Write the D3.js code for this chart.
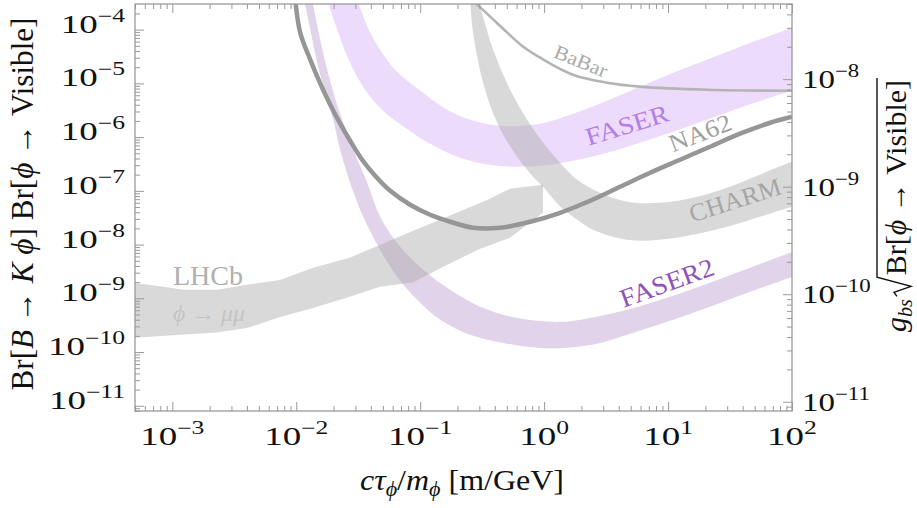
<!DOCTYPE html>
<html>
<head>
<meta charset="utf-8">
<script src="https://cdn.jsdelivr.net/npm/d3@7"></script>
<style>
  body { margin: 0; background: #fff; }
  svg { display: block; }
</style>
</head>
<body>
<svg id="chart" width="917" height="508" font-family="'Times New Roman', 'Liberation Serif', Times, 'Nimbus Roman', serif"></svg>
<script>
/* eslint-disable */
// axis ranges (c tau / m  in m/GeV, branching ratio, coupling)
const xDomain = [5e-4, 100]
const yDomain = [8e-12, 3e-4]
const gDomain = [8.2e-12, 5.0e-8]
const xMajor = [1e-3, 1e-2, 1e-1, 1, 10, 100]
const yMajor = [1e-11, 1e-10, 1e-9, 1e-8, 1e-7, 1e-6, 1e-5, 1e-4]
const gMajor = [1e-11, 1e-10, 1e-9, 1e-8]

// LHCb phi -> mu mu band
const lhcbHi = [[4.8e-4, 1.95e-9], [8.5e-4, 1.64e-9], [1.23e-3, 1.44e-9], [2.3e-3, 1.44e-9], [4.0e-3, 1.78e-9], [7.4e-3, 2.2e-9], [0.0137, 3.7e-9], [0.027, 5.7e-9], [0.0475, 9.9e-9], [0.088, 1.8e-8], [0.165, 3.3e-8], [0.35, 6.8e-8], [0.53, 1.09e-7], [0.98, 1.3e-7]]
const lhcbLo = [[4.8e-4, 1.84e-10], [1.16e-3, 2.1e-10], [2.3e-3, 2.3e-10], [4.0e-3, 2.8e-10], [7.4e-3, 4.5e-10], [0.0137, 6.6e-10], [0.027, 1.07e-9], [0.0475, 1.64e-9], [0.088, 2.0e-9], [0.165, 4.2e-9], [0.305, 8.4e-9], [0.53, 1.34e-8], [0.98, 3.9e-8]]

// CHARM band
const charmHi = [[0.294, 3.6e-4], [0.388, 4.25e-5], [0.532, 7.6e-6], [0.73, 2.1e-6], [0.98, 7.9e-7], [1.35, 3.3e-7], [1.85, 1.61e-7], [2.83, 9.2e-8], [4.67, 6.3e-8], [8.6, 6.0e-8], [15.9, 7.4e-8], [29.9, 1.14e-7], [55, 2.0e-7], [100, 3.5e-7]]
const charmLo = [[0.253, 3.6e-4], [0.267, 8.8e-5], [0.322, 1.03e-5], [0.418, 1.85e-6], [0.605, 4.3e-7], [0.815, 1.83e-7], [0.98, 1.19e-7], [1.35, 5.1e-8], [1.85, 2.9e-8], [2.48, 1.89e-8], [4.67, 1.23e-8], [8.6, 1.23e-8], [15.9, 1.52e-8], [29.9, 2.14e-8], [55, 3.3e-8], [100, 5.06e-8]]

// FASER band
const faserHi = [[0.031, 3.62e-4], [0.0403, 8.07e-5], [0.0628, 1.8e-5], [0.1057, 6.71e-6], [0.165, 3.24e-6], [0.253, 2.11e-6], [0.442, 1.63e-6], [0.929, 1.78e-6], [1.71, 2.73e-6], [3.22, 4.77e-6], [5.94, 8.69e-6], [11, 1.58e-5], [20.6, 2.76e-5], [38.1, 4.82e-5], [70.3, 8.07e-5], [100, 1.09e-4]]
const faserLo = [[0.0178, 3.62e-4], [0.0207, 1.24e-4], [0.0249, 3.89e-5], [0.031, 1.33e-5], [0.0395, 5.65e-6], [0.0522, 2.84e-6], [0.0757, 1.5e-6], [0.12, 7.53e-7], [0.21, 4.13e-7], [0.418, 2.93e-7], [0.929, 2.93e-7], [1.71, 3.64e-7], [3.22, 5.13e-7], [5.94, 7.87e-7], [11, 1.26e-6], [20.6, 2.11e-6], [38.1, 3.52e-6], [70.3, 5.65e-6], [100, 7.31e-6]]

// FASER2 band
const faser2Hi = [[0.01346, 3.6e-4], [0.015, 1e-4], [0.0175, 2.05e-5], [0.0207, 5e-6], [0.0235, 2.1e-6], [0.0288, 5.8e-7], [0.0374, 1.42e-7], [0.0475, 3.3e-8], [0.069, 9.1e-9], [0.1057, 3.4e-9], [0.1746, 1.44e-9], [0.305, 6.95e-10], [0.605, 4.3e-10], [1.35, 3.65e-10], [2.83, 4.7e-10], [4.67, 6.1e-10], [9.8, 1.02e-9], [21.8, 1.95e-9], [45.8, 3.7e-9], [100, 7.3e-9]]
const faser2Lo = [[0.0116, 3.6e-4], [0.013, 1e-4], [0.015, 2.05e-5], [0.0178, 5e-6], [0.0199, 2.1e-6], [0.0226, 5.8e-7], [0.0272, 1.42e-7], [0.0347, 3.3e-8], [0.0475, 8.0e-9], [0.0653, 2.5e-9], [0.0946, 9.4e-10], [0.145, 4.0e-10], [0.253, 2.1e-10], [0.467, 1.48e-10], [0.88, 1.2e-10], [1.53, 1.2e-10], [2.83, 1.48e-10], [4.67, 2.1e-10], [9.8, 3.65e-10], [21.8, 6.95e-10], [45.8, 1.32e-9], [100, 2.5e-9]]

// NA62 and BaBar curves
const na62 = [[0.00982, 3.62e-4], [0.01076, 8.8e-5], [0.01297, 2.76e-5], [0.01563, 9.86e-6], [0.0188, 4.01e-6], [0.02264, 1.78e-6], [0.0272, 8.57e-7], [0.034, 3.79e-7], [0.0433, 1.91e-7], [0.0573, 1.0e-7], [0.083, 5.51e-8], [0.1204, 3.59e-8], [0.1746, 2.66e-8], [0.267, 2.06e-8], [0.442, 2.06e-8], [0.771, 2.66e-8], [1.346, 3.91e-8], [2.35, 6.54e-8], [4.1, 1.19e-7], [7.16, 2.17e-7], [12.5, 3.79e-7], [21.8, 6.62e-7], [38.1, 1.16e-6], [66.6, 1.85e-6], [100, 2.4e-6]]
const babar = [[0.262, 3.6e-4], [0.367, 1.75e-4], [0.504, 8.8e-5], [0.678, 4.8e-5], [0.93, 3.0e-5], [1.71, 1.45e-5], [3.22, 1.03e-5], [5.94, 8.7e-6], [20.6, 7.6e-6], [100, 7.3e-6]]

const mLeft = 135, mRight = 792, mTop = 4, mBottom = 411

const svg = d3.select('#chart')
const x = d3.scaleLog().domain(xDomain).range([mLeft, mRight])
const y = d3.scaleLog().domain(yDomain).range([mBottom, mTop])
const g = d3.scaleLog().domain(gDomain).range([mBottom, mTop])

svg.append('clipPath').attr('id', 'clip')
  .append('rect').attr('x', mLeft).attr('y', mTop).attr('width', mRight - mLeft).attr('height', mBottom - mTop)

const plot = svg.append('g').attr('clip-path', 'url(#clip)')

const smooth = d3.line().x(d => x(d[0])).y(d => y(d[1])).curve(d3.curveCatmullRom.alpha(0.5))
const straight = d3.line().x(d => x(d[0])).y(d => y(d[1]))

function band (line, hi, lo) {
  return line(hi) + 'L' + line(lo.slice().reverse()).slice(1) + 'Z'
}

plot.append('path').attr('d', band(smooth, faser2Hi, faser2Lo)).attr('fill', 'rgb(130,80,170)').attr('fill-opacity', 0.25)
plot.append('path').attr('d', band(smooth, faserHi, faserLo)).attr('fill', 'rgb(180,110,240)').attr('fill-opacity', 0.25)
plot.append('path').attr('d', band(straight, lhcbHi, lhcbLo)).attr('fill', '#aaa').attr('fill-opacity', 0.45)
plot.append('path').attr('d', band(smooth, charmHi, charmLo)).attr('fill', '#aaa').attr('fill-opacity', 0.45)

plot.append('path').attr('d', smooth(babar)).attr('fill', 'none').attr('stroke', '#b4b4b4').attr('stroke-width', 2.6)
plot.append('path').attr('d', smooth(na62)).attr('fill', 'none').attr('stroke', '#969696').attr('stroke-width', 4.5)

// labels inside the plot
function label (txt, cx, cy, angle, size, color, width) {
  svg.append('text')
    .attr('transform', `translate(${cx},${cy}) rotate(${angle})`)
    .attr('text-anchor', 'middle')
    .attr('dominant-baseline', 'central')
    .attr('font-size', size)
    .attr('fill', color)
    .attr('textLength', width)
    .attr('lengthAdjust', 'spacingAndGlyphs')
    .text(txt)
}
label('BaBar', 581, 61, 22, 20, '#aaaaaa', 56)
label('FASER', 627, 125, -17, 25, '#b57de6', 86)
label('NA62', 700, 133, -21, 25, '#a0a0a0', 65)
label('CHARM', 735, 200, -17.5, 25, '#a6a6a6', 95)
label('FASER2', 667, 283, -20, 26, '#8e52b8', 98)

svg.append('text').attr('x', 173).attr('y', 285).attr('font-size', 28).attr('fill', '#b0b0b0')
  .attr('textLength', 70).attr('lengthAdjust', 'spacingAndGlyphs').text('LHCb')
svg.append('text').attr('x', 173).attr('y', 321).attr('font-size', 23).attr('font-style', 'italic').attr('fill', '#c4c4c4')
  .attr('textLength', 72).attr('lengthAdjust', 'spacingAndGlyphs').text('ϕ → μμ')

// ticks
function minorTicks (dom) {
  const out = []
  for (let k = Math.floor(Math.log10(dom[0])); k <= Math.ceil(Math.log10(dom[1])); k++) {
    for (let m = 2; m <= 9; m++) {
      const v = m * Math.pow(10, k)
      if (v >= dom[0] && v <= dom[1]) out.push(v)
    }
  }
  return out
}

function ticks (axisGen, scale, vals, size, tx, ty) {
  const a = svg.append('g').attr('transform', `translate(${tx},${ty})`)
    .call(axisGen(scale).tickValues(vals).tickSize(-size).tickSizeOuter(0).tickFormat(''))
  a.select('.domain').remove()
  a.selectAll('line').attr('stroke', '#999').attr('stroke-width', 1)
}
ticks(d3.axisBottom, x, xMajor, 9, 0, mBottom)
ticks(d3.axisBottom, x, minorTicks(xDomain), 5, 0, mBottom)
ticks(d3.axisTop, x, xMajor, 9, 0, mTop)
ticks(d3.axisTop, x, minorTicks(xDomain), 5, 0, mTop)
ticks(d3.axisLeft, y, yMajor, 9, mLeft, 0)
ticks(d3.axisLeft, y, minorTicks(yDomain), 5, mLeft, 0)
ticks(d3.axisRight, g, gMajor, 9, mRight, 0)
ticks(d3.axisRight, g, minorTicks(gDomain), 5, mRight, 0)

svg.append('rect').attr('x', mLeft).attr('y', mTop).attr('width', mRight - mLeft).attr('height', mBottom - mTop)
  .attr('fill', 'none').attr('stroke', '#9a9a9a').attr('stroke-width', 1.3)

// tick labels 10^n, stretched so that "10" is as wide as in the figure
function powLabel (px, py, v, anchor, tenWidth) {
  const e = Math.round(Math.log10(v))
  const t = svg.append('text')
    .attr('text-anchor', anchor)
    .attr('font-size', 26)
    .attr('fill', '#111')
  t.append('tspan').text('10')
  t.append('tspan').attr('dy', -11).attr('font-size', 18).text(e < 0 ? '−' + (-e) : String(e))
  const sx = tenWidth / t.node().getSubStringLength(0, 2)
  t.attr('transform', `translate(${px},${py}) scale(${sx},1)`)
}
xMajor.forEach(v => powLabel(x(v), 445, v, 'middle', 37))
yMajor.forEach(v => powLabel(125, y(v) + 3, v, 'end', 37))
gMajor.forEach(v => powLabel(802, g(v) + 9, v, 'start', 33))

// axis titles
const xt = svg.append('text').attr('x', 462).attr('y', 490).attr('text-anchor', 'middle').attr('font-size', 29).attr('fill', '#111')
  .attr('textLength', 204).attr('lengthAdjust', 'spacingAndGlyphs')
xt.append('tspan').attr('font-style', 'italic').text('cτ')
xt.append('tspan').attr('font-style', 'italic').attr('font-size', 20).attr('dy', 6).text('ϕ')
xt.append('tspan').attr('dy', -6).text('/')
xt.append('tspan').attr('font-style', 'italic').text('m')
xt.append('tspan').attr('font-style', 'italic').attr('font-size', 20).attr('dy', 6).text('ϕ')
xt.append('tspan').attr('dy', -6).text(' [m/GeV]')

const yt = svg.append('text').attr('transform', 'translate(33,204) rotate(-90)').attr('text-anchor', 'middle').attr('font-size', 31).attr('fill', '#111')
  .attr('textLength', 373).attr('lengthAdjust', 'spacingAndGlyphs')
yt.append('tspan').text('Br[')
yt.append('tspan').attr('font-style', 'italic').text('B')
yt.append('tspan').text(' → ')
yt.append('tspan').attr('font-style', 'italic').text('K ϕ')
yt.append('tspan').text('] Br[')
yt.append('tspan').attr('font-style', 'italic').text('ϕ')
yt.append('tspan').text(' → Visible]')

// right title with square root
const rt = svg.append('g').attr('transform', 'translate(906,206) rotate(-90)')
const rtext = rt.append('text').attr('font-size', 30).attr('fill', '#111')
rtext.append('tspan').attr('font-style', 'italic').text('g')
rtext.append('tspan').attr('font-style', 'italic').attr('font-size', 20).attr('dy', 6).text('bs')
rtext.append('tspan').attr('dy', -6).attr('dx', 24).text('Br[')
rtext.append('tspan').attr('font-style', 'italic').text('ϕ')
rtext.append('tspan').text(' → Visible]')
const total = rtext.node().getComputedTextLength() + 24
rtext.attr('x', -total / 2)
const startRad = -total / 2 + rtext.node().getSubStringLength(0, 3)
rt.append('path')
  .attr('d', `M${startRad + 3},-9 L${startRad + 7},-12 L${startRad + 13},5 L${startRad + 22},-29 L${total / 2 + 2},-29`)
  .attr('fill', 'none').attr('stroke', '#111').attr('stroke-width', 1.4)
</script>
</body>
</html>
